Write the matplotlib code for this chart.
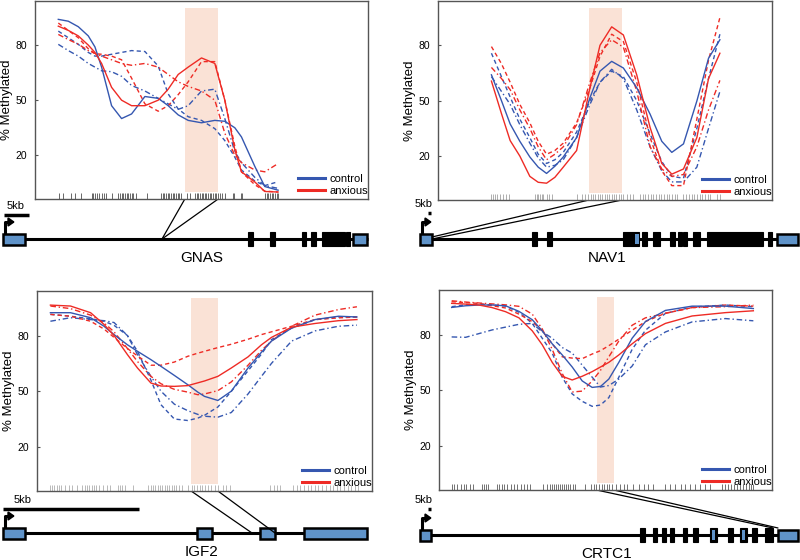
import numpy as np
import matplotlib
matplotlib.use('Agg')
import matplotlib.pyplot as plt
from matplotlib.lines import Line2D
from matplotlib.patches import ConnectionPatch

plt.rcParams['font.family'] = ['Liberation Sans', 'DejaVu Sans']

# ---------------- methylation curves (x = position across panel, 0-100) ----------------
gnas_x = [7, 10, 13, 16, 18, 20, 23, 26, 29, 33, 37, 40, 43, 46, 50, 54, 57, 60, 62, 66, 69, 73]
gnas_control = [94, 93, 90, 85, 79, 68, 47, 40, 42.5, 52, 51, 47, 42, 39, 37.7, 39, 38.5, 35, 30, 14, 3, 1]
gnas_anxious = [90.3, 88, 85, 80, 76, 70, 57, 50, 47, 47, 50, 56, 64, 68, 73, 70, 50, 23, 11, 5.5, 0.3, 0]
gnas_control_a = [87.6, 84, 80.4, 76, 74, 74, 75, 76, 77, 76.5, 68.6, 53.4, 45.2, 41, 39, 34.5, 28, 19, 12, 6, 3.5, 5.6]
gnas_control_b = [80.4, 77, 74, 70, 68, 66, 65.5, 63, 58, 55, 51, 48, 45, 47, 55, 56, 40, 22, 16, 8, 3.5, 2]
gnas_anxious_a = [92, 88, 84, 78, 75.3, 75, 74, 72, 62, 48, 44, 47, 53, 60, 71, 71, 50, 25, 11, 4, 0.5, 0]
gnas_anxious_b = [85.8, 83, 80.5, 77, 75.5, 74, 72, 70, 69, 70, 68, 64, 60, 57.5, 55, 50, 32, 20, 16, 12, 11, 15.5]

nav1_x = [16, 19, 21.6, 24.5, 27.5, 30, 32.5, 35, 37.5, 41.5, 45.5, 48.5, 52, 55.5, 59.5, 63.5, 67, 70, 73.5, 77.5, 81, 84.4]
nav1_control = [64, 50, 37.4, 28, 19.5, 14, 10.6, 14.5, 19.5, 30, 51.6, 66, 71.3, 67.7, 57, 42.7, 28, 22, 26.6, 49.8, 73, 83]
nav1_anxious = [60.6, 43, 28.4, 20, 9, 5.8, 5.3, 8.5, 14, 23, 57, 80, 90, 85.6, 64, 35.5, 16, 10.2, 13, 30, 62, 75.7]
nav1_control_a = [75.7, 63, 52, 40, 30, 21, 16, 18, 22, 33, 50, 60, 66, 63, 50, 32, 17, 9, 8, 35, 62, 86]
nav1_control_b = [63, 55, 48, 37, 27, 19, 14, 15, 18, 30, 48, 60, 67, 62, 45, 25, 12, 6, 6, 14, 35, 55]
nav1_anxious_a = [79.3, 70, 60, 48, 38, 28, 21, 23, 27, 38, 57, 74, 86, 82, 60, 30, 12, 4, 4, 40, 72, 95]
nav1_anxious_b = [68, 62, 56, 45, 35, 25, 18, 21, 25, 37, 60, 76, 83, 79, 55, 25, 13, 9, 10, 25, 45, 61]

igf2_x = [4, 10, 16, 20, 23, 27, 30, 34, 37, 41, 45, 48, 50, 54, 58, 63, 67, 70, 76, 83, 90, 95.5]
igf2_control = [92.3, 92.3, 89.6, 85, 80.5, 75, 71.5, 67, 63.4, 58.5, 53.5, 49.5, 47.2, 45, 50, 62.5, 71, 77, 84, 88.6, 90.4, 90]
igf2_anxious = [96.4, 95.9, 92.3, 86, 80, 69.7, 62.5, 54.4, 52.8, 52.6, 53, 54.5, 55.5, 58, 62.5, 68.5, 75, 79, 84.5, 86.5, 88, 88.6]
igf2_control_a = [91.4, 90.4, 89, 87.7, 85.5, 80, 71.5, 56, 42.7, 35, 34.2, 35.5, 37, 41.5, 49.9, 61, 70, 77.8, 84, 88.5, 90, 90]
igf2_control_b = [87.7, 89.6, 88.6, 88, 87, 80, 69.7, 58, 50, 43, 39.5, 37.5, 36.5, 36, 38.5, 48.5, 58, 65, 77, 82.5, 85, 85.6]
igf2_anxious_a = [91.4, 90.4, 87.7, 83.5, 79, 73, 69, 64, 64, 65.7, 68.8, 70.5, 71.5, 73.5, 75.3, 78, 80.5, 82, 85, 88.6, 89.5, 90]
igf2_anxious_b = [95.9, 94.5, 91, 86.8, 82, 73, 66, 58, 54, 51, 49.5, 48.1, 48.5, 50.3, 55, 64, 72, 77, 85, 91, 94, 95.5]

crtc1_x = [3.8, 8, 12, 16, 20, 24, 28, 31, 34, 37, 40, 43, 46, 48.5, 51, 54, 58, 62, 68, 76, 86, 94.4]
crtc1_control = [94.6, 95.5, 95.9, 95.9, 95.5, 92.5, 88, 82, 75, 69, 62.5, 55, 51.5, 52, 56, 65, 78, 87, 93, 95.3, 95.3, 94]
crtc1_anxious = [96.8, 96.4, 95.9, 94.5, 92.3, 89, 82, 74.5, 65, 57.5, 55.5, 57.5, 60, 62.5, 65, 69, 75, 80.5, 86, 90, 91.8, 92.8]
crtc1_control_a = [95, 96, 96.4, 96, 95.3, 92, 86, 78, 70, 57, 48, 44, 41.3, 42, 46, 57, 72, 82.3, 91.4, 94.8, 95.9, 95]
crtc1_control_b = [78.7, 78.5, 80.5, 82.5, 84, 85.5, 86, 81.5, 78, 73, 70, 63.5, 57, 51.7, 52.5, 56, 63, 74.5, 81.4, 86.8, 88.6, 87.4]
crtc1_anxious_a = [97.7, 97.2, 96.8, 95.5, 94.3, 91, 87, 82, 75, 68, 67.3, 67, 69.5, 71.3, 74, 77.5, 82.3, 87, 91.5, 94.5, 95.9, 95.3]
crtc1_anxious_b = [98.2, 97.5, 97, 96.5, 96, 95.2, 91, 83, 72, 59, 49, 49.5, 55, 60.7, 68, 76.5, 85, 89, 91.4, 94.5, 95, 95.9]

# highlighted region (same x units)
gnas_region = (45, 55)
nav1_region = (45.2, 55.1)
igf2_region = (46, 54)
crtc1_region = (47.3, 52.5)

# CpG site positions (rug)
gnas_cpg = [7.3, 8.3, 10.8, 12.0, 13.7, 17.0, 17.5, 18.0, 18.5, 19.3, 20.0, 20.7, 21.3, 23.0,
            25.0, 25.5, 26.0, 26.5, 27.0, 27.5, 28.0, 28.5, 29.0, 29.5, 30.3, 33.5,
            37.8, 38.3, 38.8, 39.3, 39.8, 40.3, 40.8, 41.3, 41.8, 42.3, 42.8, 43.3, 43.8,
            45.5, 46.5, 48.0, 48.5, 49.0, 49.5, 50.0, 50.5, 51.0, 51.5, 52.0, 52.5, 53.0,
            53.5, 54.0, 54.5, 55.0, 55.5, 56.2, 57.2, 59.4, 59.8, 61.8, 62.2,
            69.1, 69.6, 70.1, 70.6, 71.1, 71.6, 72.1, 72.6, 73.1]
nav1_cpg = [15.8, 16.4, 17.0, 17.8, 18.6, 19.4, 20.4, 21.2,
            29.0, 29.5, 30.0, 30.5, 31.0, 31.5, 32.5, 33.3, 34.0,
            41.5, 43.0, 44.0, 45.0, 45.7, 46.4, 47.1, 47.8, 48.5, 49.2, 49.9, 50.6, 51.3,
            52.0, 52.7, 53.4, 54.1, 54.8, 55.5, 56.5, 57.5, 58.5,
            60.5, 61.3, 62.1, 62.9, 63.7, 64.5, 65.3, 66.1, 66.9, 67.7, 68.5, 69.3, 70.1, 70.9, 71.5,
            73.5, 74.3, 75.1, 75.9, 76.7, 77.5, 78.3, 79.1, 79.9, 80.7, 81.5, 83.4, 84.4]
igf2_cpg = [3.9, 4.5, 5.2, 6.0, 6.6, 7.3, 8.5, 9.6, 10.4, 12.0, 13.5, 14.2, 14.9, 15.6, 16.3,
            17.0, 17.7, 18.4, 19.8, 21.0, 21.8, 24.3, 24.9, 25.5, 26.3, 28.7,
            33.2, 33.9, 34.6, 35.3, 36.0, 36.7, 37.4, 38.1, 38.8, 39.5, 40.2, 40.9, 41.6, 42.3, 43.2,
            45.2, 46.3, 47.0, 47.8, 48.6, 49.4, 50.2, 51.0, 52.0, 53.0, 54.0, 55.5, 56.5, 57.6,
            69.6, 70.6, 71.5, 72.5, 76.5, 77.5, 78.6, 79.8, 80.9, 81.8, 83.0, 84.0, 85.0, 86.3,
            87.4, 88.4, 89.5, 90.5, 91.6, 92.7, 93.8, 94.8, 95.9]
crtc1_cpg = [3.8, 4.4, 5.4, 6.5, 7.4, 8.2, 9.2, 10.3, 12.8, 13.5, 14.2, 14.8,
             17.3, 18.0, 18.8, 19.6, 20.5, 21.5, 22.5, 23.5, 24.5, 25.5, 26.4, 27.3,
             31.3, 32.3, 33.4, 34.0, 34.6, 35.2, 35.8, 36.4, 37.0, 37.6, 38.2, 38.8, 39.4, 40.1, 40.8,
             43.8, 45.6, 46.4, 47.2, 48.0, 48.8, 49.6, 50.4, 51.2, 52.0, 53.3, 54.5, 55.5, 56.4,
             58.4, 60.0, 61.5, 62.9, 64.4, 67.9, 69.4, 71.0, 72.6, 74.0, 75.5, 77.0, 78.5, 80.0, 81.4,
             84.9, 85.8, 86.7, 87.6, 88.5, 89.4, 90.3, 91.2, 92.1, 93.0, 93.7, 94.4]

# ---------------- gene models (track units = pixels from column start) ----------------
gene_names = ['GNAS', 'NAV1', 'IGF2', 'CRTC1']
gnas_span = (5, 368)
gnas_blue = [(3, 25), (353, 367)]
gnas_black = [(248, 253), (270, 275), (302, 306), (311, 316), (322, 345), (346, 350)]
gnas_inner = []
gnas_scale = (4, 29)
gnas_links = [(162, 239), (162, 239)]

nav1_span = (20, 398)
nav1_blue = [(20, 32), (377, 398)]
nav1_black = [(132, 137), (147, 152), (223, 239), (242, 247), (253, 260), (270, 275), (278, 282),
              (283, 287), (293, 300), (307, 363), (368, 372)]
nav1_inner = [(235, 239)]
nav1_scale = (28, 31)
nav1_links = [(32, 237), (32, 239)]

igf2_span = (3, 367)
igf2_blue = [(3, 25), (197, 212), (260, 275), (304, 367)]
igf2_black = []
igf2_inner = []
igf2_scale = (3, 139)
igf2_links = [(252, 533), (275, 533)]

crtc1_span = (20, 398)
crtc1_blue = [(20, 31), (378, 398)]
crtc1_black = [(240, 245), (253, 257), (262, 266), (270, 274), (283, 287), (293, 298), (310, 317),
               (328, 333), (340, 347), (352, 357), (365, 373)]
crtc1_inner = [(312, 315), (342, 345)]
crtc1_scale = (28, 31)
crtc1_links = [(373, 528), (378, 528)]

blue = '#3557b0'
red = '#ee2b25'
shade = '#fae2d6'
exon_blue = '#5f93c9'

W, H = 800, 560
fig = plt.figure(figsize=(8, 5.6), dpi=100)

# overlay for gene tracks, in pixel units
ov = fig.add_axes([0, 0, 1, 1], zorder=0)
ov.set_xlim(0, W)
ov.set_ylim(H, 0)
ov.axis('off')

panels = [
    (gnas_x, [gnas_control, gnas_anxious, gnas_control_a, gnas_control_b, gnas_anxious_a, gnas_anxious_b],
     gnas_region, gnas_cpg, (35, 1, 368, 199), '#222222',
     gnas_span, gnas_blue, gnas_black, gnas_inner, gnas_scale, gnas_links, 0, 239, 215, 16, 202),
    (nav1_x, [nav1_control, nav1_anxious, nav1_control_a, nav1_control_b, nav1_anxious_a, nav1_anxious_b],
     nav1_region, nav1_cpg, (438, 1, 772, 200), '#8a8a8a',
     nav1_span, nav1_blue, nav1_black, nav1_inner, nav1_scale, nav1_links, 400, 239, 213, 24, 207),
    (igf2_x, [igf2_control, igf2_anxious, igf2_control_a, igf2_control_b, igf2_anxious_a, igf2_anxious_b],
     igf2_region, igf2_cpg, (37, 291, 372, 491), '#9a9a9a',
     igf2_span, igf2_blue, igf2_black, igf2_inner, igf2_scale, igf2_links, 0, 533, 509, 23, 202),
    (crtc1_x, [crtc1_control, crtc1_anxious, crtc1_control_a, crtc1_control_b, crtc1_anxious_a, crtc1_anxious_b],
     crtc1_region, crtc1_cpg, (439, 290, 772, 490), '#333333',
     crtc1_span, crtc1_blue, crtc1_black, crtc1_inner, crtc1_scale, crtc1_links, 400, 535, 509, 24, 207),
]

styles = [(blue, '-'), (red, '-'), (blue, (0, (3, 2.2))), (blue, (0, (4, 2, 1, 2))),
          (red, (0, (3, 2.2))), (red, (0, (4, 2, 1, 2)))]

for i, p in enumerate(panels):
    (xs, series, region, cpg, box, rug_col,
     span, exb, exk, exi, scale, links, x0, gy, sy, kb_x, name_x) = p
    l, t, r, b = box
    ax = fig.add_axes([l / W, 1 - b / H, (r - l) / W, (b - t) / H], zorder=2)
    ax.set_xlim(0, 100)
    ax.set_ylim(-3.8, 104)
    ax.axvspan(region[0], region[1], ymin=3.8 / 107.8, ymax=103.8 / 107.8,
               color=shade, lw=0, zorder=0)
    ax.vlines(cpg, -3.8, -0.4, color=rug_col, lw=0.6, alpha=0.8, zorder=1)
    # individuals first, group means on top
    for k in [2, 3, 4, 5, 0, 1]:
        c, ls = styles[k]
        ax.plot(xs, series[k], color=c, linestyle=ls, lw=1.0, zorder=3)
    for s in ax.spines.values():
        s.set_color('#555555')
        s.set_linewidth(1.0)
    ax.set_xticks([])
    ax.set_yticks([20, 50, 80])
    ax.tick_params(axis='y', direction='in', length=2, pad=6, labelsize=7.5, color='#555555')
    ax.set_ylabel('% Methylated', fontsize=9.5)
    ax.yaxis.set_label_coords(-22.0 / (r - l), 0.5)
    handles = [Line2D([], [], color=blue, lw=2.2), Line2D([], [], color=red, lw=2.2)]
    ax.legend(handles, ['control', 'anxious'], loc='lower right', bbox_to_anchor=(1.0, 0.015),
              frameon=False, fontsize=8, handlelength=2.4, handletextpad=0.4,
              labelspacing=0.15, borderpad=0, borderaxespad=0)

    # gene track
    ov.hlines(gy, x0 + span[0], x0 + span[1], color='black', lw=2.2, zorder=1)
    for a, e in exk:
        ov.add_patch(plt.Rectangle((x0 + a, gy - 7), e - a, 14, facecolor='black',
                                   edgecolor='black', lw=0.8, zorder=2))
    for a, e in exb:
        ov.add_patch(plt.Rectangle((x0 + a, gy - 5.5), e - a, 11, facecolor=exon_blue,
                                   edgecolor='black', lw=1.8, zorder=3))
    for a, e in exi:
        ov.add_patch(plt.Rectangle((x0 + a, gy - 5), e - a, 10, facecolor=exon_blue,
                                   edgecolor='none', zorder=4))
    # TSS arrow
    tx = x0 + exb[0][0] + 2
    ov.plot([tx, tx, tx + 4], [gy - 5.5, gy - 17, gy - 17], color='black', lw=2.2,
            solid_joinstyle='round', zorder=2)
    ov.annotate('', xy=(tx + 10, gy - 17), xytext=(tx + 3, gy - 17),
                arrowprops=dict(arrowstyle='-|>,head_length=0.35,head_width=0.25',
                                color='black', lw=1.5, shrinkA=0, shrinkB=0))
    # scale bar
    ov.hlines(sy, x0 + scale[0], x0 + scale[1], color='black', lw=2.5)
    ov.text(x0 + kb_x, sy - 4, '5kb', fontsize=8, ha='center', va='bottom')
    ov.text(x0 + name_x, gy + 19, gene_names[i], fontsize=11, ha='center', va='center')
    # links from highlighted region to gene position
    for rx, (lx, ly) in zip(region, links):
        con = ConnectionPatch(xyA=(rx, -3.8), coordsA=ax.transData,
                              xyB=(x0 + lx, ly), coordsB=ov.transData,
                              color='black', lw=0.9)
        fig.add_artist(con)

fig.savefig('out.png', dpi=100)
